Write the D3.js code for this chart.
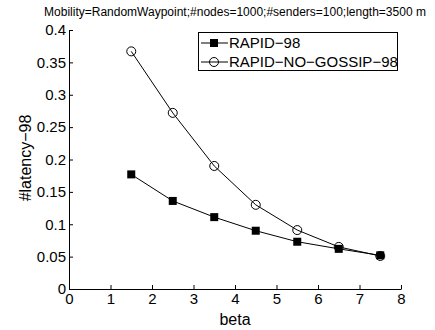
<!DOCTYPE html>
<html><head><meta charset="utf-8">
<script src="https://cdn.jsdelivr.net/npm/d3@7"></script>
<style>body{margin:0;background:#fff}svg{display:block}text{font-family:"Liberation Sans",Arial,sans-serif}</style>
</head><body>
<script>
const betas = [1.5, 2.5, 3.5, 4.5, 5.5, 6.5, 7.5];
const rapid = [0.177, 0.136, 0.111, 0.090, 0.073, 0.062, 0.052];
const noGossip = [0.367, 0.272, 0.190, 0.130, 0.091, 0.065, 0.051];
const xTicks = [0, 1, 2, 3, 4, 5, 6, 7, 8];
const yTicks = [0, 0.05, 0.1, 0.15, 0.2, 0.25, 0.3, 0.35, 0.4];
const seriesNames = ["RAPID\u221298", "RAPID\u2212NO\u2212GOSSIP\u221298"];
const title = "Mobility=RandomWaypoint;#nodes=1000;#senders=100;length=3500 m";

const W = 435, H = 330;
const svg = d3.select("body").append("svg").attr("width", W).attr("height", H);
const x = d3.scaleLinear().domain([0, 8]).range([69, 401]);
const y = d3.scaleLinear().domain([0, 0.4]).range([289, 30]);

// axes
const gx = svg.append("g").attr("transform", `translate(0,${y(0)})`)
  .call(d3.axisBottom(x).tickValues(xTicks).tickFormat(d3.format("d")).tickSizeInner(-4).tickSizeOuter(0).tickPadding(6));
const gy = svg.append("g").attr("transform", `translate(${x(0)},0)`)
  .call(d3.axisLeft(y).tickValues(yTicks).tickFormat(d => d === 0 ? "0" : String(d)).tickSizeInner(-4).tickSizeOuter(0).tickPadding(3));
[gx, gy].forEach(g => {
  g.select(".domain").attr("stroke", "#000").attr("stroke-width", 1);
  g.selectAll(".tick line").attr("stroke", "#000");
  g.selectAll(".tick text").attr("fill", "#000").style("font-size", "15px").style("font-family", '"Liberation Sans",Arial,sans-serif');
});
gx.selectAll(".tick text").attr("dy", "0.6em");

// lines
const line = d3.line().x((d, i) => x(betas[i])).y(d => y(d));
svg.append("path").datum(rapid).attr("d", line).attr("fill", "none").attr("stroke", "#000").attr("stroke-width", 1);
svg.append("path").datum(noGossip).attr("d", line).attr("fill", "none").attr("stroke", "#000").attr("stroke-width", 1);
svg.selectAll("rect.m").data(rapid).enter().append("rect")
  .attr("x", (d, i) => x(betas[i]) - 4).attr("y", d => y(d) - 4).attr("width", 8).attr("height", 8).attr("fill", "#000");
svg.selectAll("circle.m").data(noGossip).enter().append("circle")
  .attr("cx", (d, i) => x(betas[i])).attr("cy", d => y(d)).attr("r", 4.5)
  .attr("fill", "none").attr("stroke", "#000").attr("stroke-width", 1);

// legend
const lg = svg.append("g");
lg.append("rect").attr("x", 198.5).attr("y", 32.5).attr("width", 199).attr("height", 38)
  .attr("fill", "#fff").attr("stroke", "#000").attr("stroke-width", 1);
[0, 1].forEach(i => {
  const cy = 43 + i * 19;
  lg.append("line").attr("x1", 201).attr("x2", 228).attr("y1", cy).attr("y2", cy).attr("stroke", "#000");
  if (i === 0) lg.append("rect").attr("x", 210).attr("y", cy - 4).attr("width", 8).attr("height", 8).attr("fill", "#000");
  else lg.append("circle").attr("cx", 214).attr("cy", cy).attr("r", 4.5).attr("fill", "none").attr("stroke", "#000");
  lg.append("text").attr("x", 229).attr("y", cy).attr("dy", "0.35em").style("font-size", "15px").text(seriesNames[i]);
});

// labels
svg.append("text").attr("x", 235).attr("y", 16).attr("text-anchor", "middle").style("font-size", "12px").text(title);
svg.append("text").attr("x", 235).attr("y", 325).attr("text-anchor", "middle").style("font-size", "16px").text("beta");
svg.append("text").attr("transform", "translate(31,158) rotate(-90)").attr("text-anchor", "middle").style("font-size", "16px").text("#latency\u221298");
</script>
</body></html>
